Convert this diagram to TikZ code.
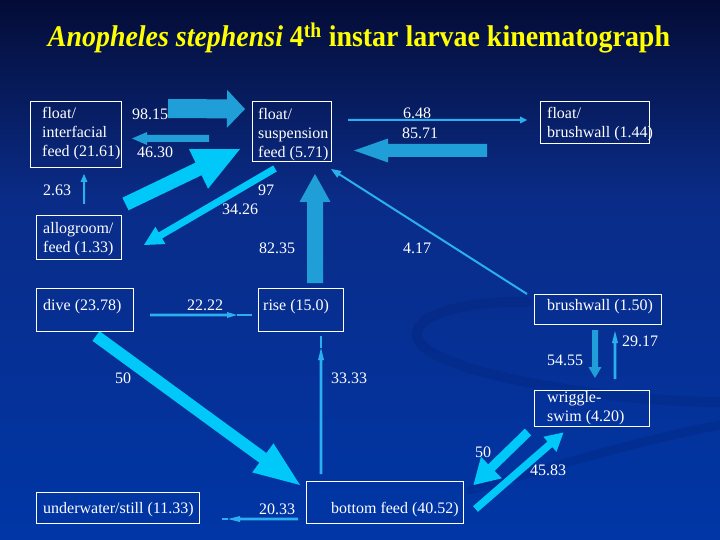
\documentclass[tikz,border=0pt]{standalone}
\usepackage{fontspec}
\setmainfont{Liberation Serif}
\usetikzlibrary{calc}
\definecolor{cyanA}{HTML}{00C8F8}
\definecolor{midA}{HTML}{1F9ED8}
\definecolor{thinA}{HTML}{2AB0F0}
\definecolor{bgTop}{HTML}{040C36}
\definecolor{bgMid}{HTML}{0A2C88}
\definecolor{bgBot}{HTML}{0036A6}
\definecolor{swirl}{HTML}{001A66}
\definecolor{ttl}{HTML}{FFFF00}
\newcommand\blkarrow[6][]{%
  \coordinate (ba-hb) at ($(#3)!#6!(#2)$);
  \fill[#1] ($(#2)!#4!90:(#3)$) -- ($(ba-hb)!#4!90:(#3)$) -- ($(ba-hb)!#5!90:(#3)$) -- (#3) -- ($(ba-hb)!#5!-90:(#3)$) -- ($(ba-hb)!#4!-90:(#3)$) -- ($(#2)!#4!-90:(#3)$) -- cycle;}
\begin{document}
\begin{tikzpicture}[x=1pt,y=-1pt,
  box/.style={draw=white, line width=1pt, inner sep=0pt, fill=none},
  txt/.style={text=white, font=\fontsize{16}{19}\selectfont, inner sep=0pt, align=left, anchor=west},
  lbl/.style={text=white, font=\fontsize{16}{19}\selectfont, inner sep=0pt},
  thinline/.style={draw=thinA, line width=1.5pt}]
\useasboundingbox (0,0) rectangle (720,540);
% background
\shade[top color=bgTop, bottom color=bgMid] (0,0) rectangle (720,200);
\shade[top color=bgMid, bottom color=bgBot] (0,199.5) rectangle (720,540);
% swirl
\draw[swirl, line width=10pt, opacity=0.2, line cap=round] (527,302) .. controls (450,300) and (400,322) .. (422,345) .. controls (450,375) and (610,402) .. (720,402);
\draw[swirl, line width=9pt, opacity=0.2, line cap=round] (720,425) .. controls (640,440) and (560,465) .. (470,490);
% title
\node[text=ttl, anchor=base, inner sep=0pt, font=\fontsize{30}{36}\selectfont\bfseries] (title) at (359,47)
  {\resizebox{622pt}{\height}{\textit{Anopheles stephensi} 4\textsuperscript{th} instar larvae kinematograph}};
% arrow end points
\coordinate (aAt) at (168,108.5); \coordinate (aAh) at (245,109);
\coordinate (aBt) at (209,138.5); \coordinate (aBh) at (132,138.5);
\coordinate (aCt) at (125.5,204); \coordinate (aCh) at (240,149);
\coordinate (aDt) at (275,168.5); \coordinate (aDh) at (144,245);
\coordinate (aEt) at (84,204); \coordinate (aEh) at (84,174);
\coordinate (aFt) at (315,283); \coordinate (aFh) at (315,174);
\coordinate (aGt) at (348,120); \coordinate (aGh) at (527,120);
\coordinate (aHt) at (487,150.5); \coordinate (aHh) at (354,150.5);
\coordinate (aIt) at (527,294); \coordinate (aIh) at (331,169);
\coordinate (aJt) at (150,315); \coordinate (aJh) at (237,315); \coordinate (aJe) at (252,315);
\coordinate (aKt) at (96,336); \coordinate (aKh) at (300,485);
\coordinate (aLt) at (321,474); \coordinate (aLh) at (321,348); \coordinate (aLe) at (321,336);
\coordinate (aMt) at (298,519); \coordinate (aMh) at (228,519); \coordinate (aMe) at (222,519);
\coordinate (aNt) at (595,330); \coordinate (aNh) at (595,378);
\coordinate (aOt) at (615,379); \coordinate (aOh) at (615,331);
\coordinate (aPt) at (528,432); \coordinate (aPh) at (473.5,485);
\coordinate (aQt) at (475.5,509); \coordinate (aQh) at (563.5,432.5);
% arrows
\blkarrow[midA]{aAt}{aAh}{9.5pt}{19pt}{18pt}
\blkarrow[midA]{aBt}{aBh}{3.5pt}{6.5pt}{15pt}
\blkarrow[cyanA]{aCt}{aCh}{7pt}{22pt}{46pt}
\blkarrow[cyanA]{aDt}{aDh}{3.5pt}{10pt}{19pt}
\blkarrow[thinA]{aEt}{aEh}{1pt}{3.5pt}{8pt}
\blkarrow[midA]{aFt}{aFh}{8pt}{15.5pt}{28pt}
\blkarrow[thinA]{aGt}{aGh}{1pt}{3.5pt}{7pt}
\blkarrow[midA]{aHt}{aHh}{6.5pt}{12pt}{34pt}
\blkarrow[thinA]{aIt}{aIh}{1pt}{4pt}{10pt}
\blkarrow[thinA]{aJt}{aJh}{1.4pt}{3pt}{10pt}
\draw[thinline] (aJh) -- (aJe);
\blkarrow[cyanA]{aKt}{aKh}{6pt}{18pt}{46pt}
\blkarrow[thinA]{aLt}{aLh}{1.4pt}{3pt}{12pt}
\draw[thinline] (aLh) -- (aLe);
\blkarrow[thinA]{aMt}{aMh}{1.4pt}{3pt}{12pt}
\draw[thinline] (aMh) -- (aMe);
\blkarrow[midA]{aNt}{aNh}{3pt}{6.5pt}{11pt}
\blkarrow[thinA]{aOt}{aOh}{1.4pt}{3pt}{12pt}
\blkarrow[cyanA]{aPt}{aPh}{4.6pt}{15pt}{25pt}
\blkarrow[cyanA]{aQt}{aQh}{3.7pt}{10pt}{18pt}
% boxes
\node[box, minimum width=91pt, minimum height=66pt] (bInter) at (75.5,135) {};
\node[box, minimum width=79pt, minimum height=60pt] (bSusp) at (291.5,132) {};
\node[box, minimum width=109pt, minimum height=42pt] (bFBrush) at (594.5,123) {};
\node[box, minimum width=85pt, minimum height=43pt] (bAllo) at (78.5,237.5) {};
\node[box, minimum width=97pt, minimum height=43pt] (bDive) at (84.5,309.5) {};
\node[box, minimum width=85pt, minimum height=43pt] (bRise) at (300.5,309.5) {};
\node[box, minimum width=163pt, minimum height=31pt] (bUnder) at (117.5,507.5) {};
\node[box, minimum width=157pt, minimum height=42pt] (bBottom) at (384.5,502) {};
\node[box, minimum width=127pt, minimum height=30pt] (bBrush) at (597.5,309) {};
\node[box, minimum width=115pt, minimum height=36pt] (bWrig) at (591.5,408) {};
% box texts
\node[txt] (tInter) at (42,134) {float/\\interfacial\\feed (21.61)};
\node[txt] (tSusp) at (258,134.5) {float/\\suspension\\feed (5.71)};
\node[txt] (tFBrush) at (547,124.5) {float/\\brushwall (1.44)};
\node[txt] (tAllo) at (43,239.5) {allogroom/\\feed (1.33)};
\node[txt] (tDive) at (43,307) {dive (23.78)};
\node[txt] (tRise) at (263,307) {rise (15.0)};
\node[txt] (tUnder) at (43,510) {underwater/still (11.33)};
\node[txt] (tBottom) at (331,510) {bottom feed (40.52)};
\node[txt] (tBrush) at (547,307) {brushwall (1.50)};
\node[txt] (tWrig) at (547,408.5) {wriggle-\\swim (4.20)};
% labels
\node[lbl] (l1) at (150,114) {98.15};
\node[lbl] (l2) at (155,152) {46.30};
\node[lbl] (l3) at (57,190) {2.63};
\node[lbl] (l4) at (266,190) {97};
\node[lbl] (l5) at (240,209) {34.26};
\node[lbl] (l6) at (277,248) {82.35};
\node[lbl] (l7) at (417,113) {6.48};
\node[lbl] (l8) at (420,133) {85.71};
\node[lbl] (l9) at (417,248) {4.17};
\node[lbl] (l10) at (205,305) {22.22};
\node[lbl] (l11) at (123,378) {50};
\node[lbl] (l12) at (349,378) {33.33};
\node[lbl] (l13) at (277,509) {20.33};
\node[lbl] (l14) at (640,341) {29.17};
\node[lbl] (l15) at (565,360) {54.55};
\node[lbl] (l16) at (483,452) {50};
\node[lbl] (l17) at (548,470) {45.83};
\end{tikzpicture}
\end{document}
